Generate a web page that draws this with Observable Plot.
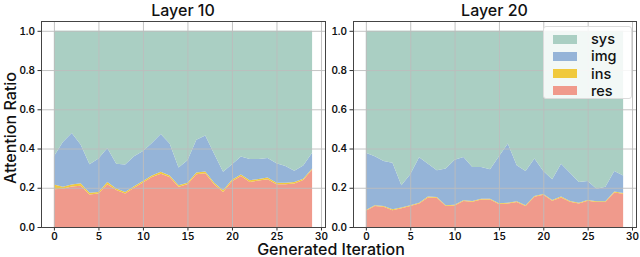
<!DOCTYPE html>
<html>
<head>
<meta charset="utf-8">
<script src="https://cdn.jsdelivr.net/npm/d3@7"></script>
<script src="https://cdn.jsdelivr.net/npm/@observablehq/plot@0.6"></script>
<style>
  body { margin: 0; background: white; font-family: Inter, "DejaVu Sans", sans-serif; }
  #wrap { position: relative; width: 640px; height: 257px; overflow: hidden; }
  .abs { position: absolute; }
  .title { font-size: 16px; font-weight: 500; color: #111; transform: translateX(-50%); white-space: nowrap; line-height: 16px; }
  .legend { background: rgba(255,255,255,0.85); border: 1px solid #dcdcdc; border-radius: 3px; }
  .lrow { position: absolute; left: 9px; display: flex; align-items: center; }
  .patch { width: 24px; height: 9px; }
  .ltxt { margin-left: 14px; font-size: 14.5px; font-weight: 500; color: #111; line-height: 14px; }
</style>
</head>
<body>
<div id="wrap"></div>
<script>
// ---- data ----
const iterations = d3.range(0, 30);
const seriesNames = ["res", "ins", "img", "sys"];
const seriesColors = ["#f09a8c", "#f0c93c", "#95b4d8", "#aacfc3"];
const panelTitles = ["Layer 10", "Layer 20"];
const xTicks = [0, 5, 10, 15, 20, 25, 30];
const yTicks = [0, 0.2, 0.4, 0.6, 0.8, 1.0];

// Layer 10
const l10_res = [0.193,0.195,0.206,0.210,0.166,0.171,0.218,0.188,0.171,0.200,0.227,0.255,0.272,0.255,0.205,0.218,0.269,0.274,0.218,0.179,0.233,0.260,0.230,0.237,0.244,0.218,0.218,0.222,0.239,0.293];
const l10_ins = [0.024,0.010,0.011,0.013,0.008,0.008,0.012,0.008,0.008,0.008,0.008,0.008,0.009,0.008,0.008,0.008,0.009,0.009,0.008,0.008,0.008,0.008,0.008,0.008,0.008,0.008,0.007,0.007,0.007,0.005];
const l10_img = [0.143,0.228,0.262,0.198,0.146,0.170,0.173,0.127,0.139,0.152,0.152,0.165,0.193,0.162,0.090,0.114,0.167,0.184,0.148,0.094,0.079,0.091,0.109,0.102,0.100,0.099,0.086,0.058,0.067,0.081];

// Layer 20
const l20_res = [0.083,0.107,0.103,0.086,0.095,0.107,0.120,0.151,0.149,0.107,0.110,0.132,0.129,0.140,0.140,0.117,0.120,0.127,0.107,0.154,0.164,0.134,0.151,0.129,0.120,0.134,0.127,0.127,0.176,0.169];
const l20_ins = [0.004,0.004,0.004,0.004,0.004,0.004,0.004,0.004,0.004,0.004,0.004,0.004,0.004,0.004,0.004,0.004,0.004,0.004,0.004,0.004,0.004,0.004,0.004,0.004,0.004,0.004,0.004,0.004,0.005,0.004];
const l20_img = [0.291,0.249,0.229,0.237,0.114,0.158,0.232,0.168,0.136,0.187,0.229,0.221,0.173,0.162,0.150,0.239,0.301,0.184,0.175,0.191,0.118,0.106,0.168,0.143,0.106,0.097,0.064,0.074,0.105,0.090];

function tidy(res, ins, img) {
  const rows = [];
  const sys = iterations.map((_, i) => 1 - res[i] - ins[i] - img[i]);
  const vals = {res, ins, img, sys};
  for (const s of seriesNames) {
    iterations.forEach((it, i) => rows.push({iter: it, series: s, value: vals[s][i]}));
  }
  return rows;
}

const panels = [
  {data: tidy(l10_res, l10_ins, l10_img), left: 0, mL: 41, mR: 5, title: panelTitles[0]},
  {data: tidy(l20_res, l20_ins, l20_img), left: 310, mL: 43, mR: 4, title: panelTitles[1]}
];

const wrap = document.getElementById("wrap");
const font = "Inter, 'DejaVu Sans', sans-serif";

for (const p of panels) {
  const chart = Plot.plot({
    width: 330, height: 257,
    marginTop: 21, marginBottom: 30, marginLeft: p.mL, marginRight: p.mR,
    style: {fontFamily: font, fontSize: "10px", fontWeight: 600, color: "#111", background: "transparent", overflow: "visible"},
    x: {domain: [-1.45, 30.45]},
    y: {domain: [0, 1.05]},
    color: {domain: seriesNames, range: seriesColors},
    marks: [
      Plot.areaY(p.data, {x: "iter", y: "value", z: "series", fill: "series", order: seriesNames, curve: "linear"}),
      Plot.gridX(xTicks, {stroke: "#bdbdbd", strokeOpacity: 0.9, strokeWidth: 1}),
      Plot.gridY(yTicks, {stroke: "#bdbdbd", strokeOpacity: 0.9, strokeWidth: 1}),
      Plot.axisX(xTicks, {tickSize: 3.5, tickPadding: 2, stroke: "#333", label: null, fontSize: 10}),
      Plot.axisY(yTicks, {tickSize: 3.5, tickPadding: 3, stroke: "#333", label: null, tickFormat: d3.format(".1f"), fontSize: 10}),
      Plot.frame({stroke: "#444", strokeWidth: 1})
    ]
  });
  chart.classList.add("abs");
  chart.style.left = p.left + "px";
  chart.style.top = "0px";
  wrap.appendChild(chart);

  const t = document.createElement("div");
  t.className = "abs title";
  t.textContent = p.title;
  const cx = p.left + p.mL + (330 - p.mL - p.mR) / 2;
  t.style.left = cx + "px";
  t.style.top = "2px";
  wrap.appendChild(t);
}

// y label
const yl = document.createElement("div");
yl.className = "abs";
yl.textContent = "Attention Ratio";
Object.assign(yl.style, {left: "10px", top: "128px", fontSize: "16px", fontWeight: 500, color: "#111", lineHeight: "16px",
  transform: "translate(-50%, -50%) rotate(-90deg)", whiteSpace: "nowrap"});
wrap.appendChild(yl);

// x label
const xl = document.createElement("div");
xl.className = "abs";
xl.textContent = "Generated Iteration";
Object.assign(xl.style, {left: "331px", top: "243px", fontSize: "16px", fontWeight: 500, color: "#111", lineHeight: "12px",
  transform: "translateX(-50%)", whiteSpace: "nowrap"});
wrap.appendChild(xl);

// legend
const lg = document.createElement("div");
lg.className = "abs legend";
Object.assign(lg.style, {left: "543px", top: "26px", width: "87px", height: "71px"});
const order = ["sys", "img", "ins", "res"];
order.forEach((s, k) => {
  const row = document.createElement("div");
  row.className = "lrow";
  row.style.top = (5 + k * 17.3) + "px";
  const patch = document.createElement("div");
  patch.className = "patch";
  patch.style.background = seriesColors[seriesNames.indexOf(s)];
  const txt = document.createElement("span");
  txt.className = "ltxt";
  txt.textContent = s;
  row.appendChild(patch); row.appendChild(txt);
  lg.appendChild(row);
});
wrap.appendChild(lg);
</script>
</body>
</html>
